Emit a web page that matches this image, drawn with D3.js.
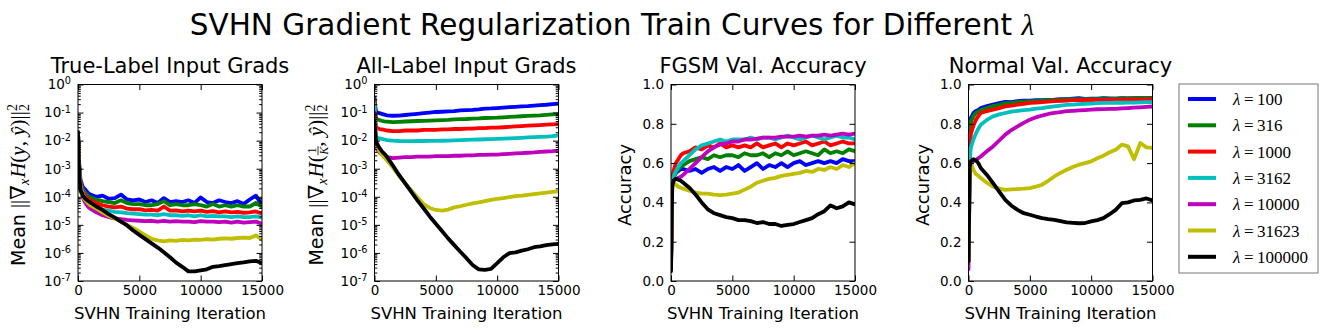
<!DOCTYPE html>
<html>
<head>
<meta charset="utf-8">
<script src="https://cdn.jsdelivr.net/npm/d3@7"></script>
<style>
  body { margin: 0; background: #fff; }
</style>
</head>
<body>
<script>
// training iteration at which each value was logged
const iters = [0, 100, 200, 400, 600, 800, 1000, 1500, 2000, 2500, 3000, 3500, 4000, 4500, 5000,
  5500, 6000, 6500, 7000, 7500, 8000, 8500, 9000, 9500, 10000, 10500, 11000, 11500, 12000,
  12500, 13000, 13500, 14000, 14500, 15000];

const lambdas = ["100", "316", "1000", "3162", "10000", "31623", "100000"];

// one row per lambda, same order as lambdas
const trueLabelGrads = [
  [2e-2, 1.5e-3, 4e-4, 2.2e-4, 1.8e-4, 1.4e-4, 1.2e-4, 1.0e-4, 1.1e-4, 8.5e-5, 9e-5, 1.2e-4, 8e-5, 7.5e-5, 8e-5, 6.5e-5, 7.5e-5, 6e-5, 9e-5, 6.5e-5, 7e-5, 6.5e-5, 7.5e-5, 6e-5, 9.5e-5, 6.5e-5, 6e-5, 7.5e-5, 6.5e-5, 6e-5, 7e-5, 5.5e-5, 8e-5, 1.1e-4, 5e-5],
  [2e-2, 1.2e-3, 3.5e-4, 1.8e-4, 1.4e-4, 1.1e-4, 9.5e-5, 8e-5, 7e-5, 6.5e-5, 6e-5, 7.5e-5, 6e-5, 5.5e-5, 5.5e-5, 5e-5, 5e-5, 5.5e-5, 7e-5, 5e-5, 5.5e-5, 5e-5, 5e-5, 5.5e-5, 5e-5, 4.5e-5, 5.5e-5, 4.5e-5, 5e-5, 4.5e-5, 5e-5, 4.5e-5, 4.5e-5, 6e-5, 4.5e-5],
  [2e-2, 1e-3, 3e-4, 1.5e-4, 1.1e-4, 8.5e-5, 7.5e-5, 6e-5, 5e-5, 4.5e-5, 4.2e-5, 4.5e-5, 3.8e-5, 3.6e-5, 3.6e-5, 3.3e-5, 3.4e-5, 3.2e-5, 4.5e-5, 3.2e-5, 3.3e-5, 3e-5, 3.2e-5, 3e-5, 3.2e-5, 2.9e-5, 3.1e-5, 2.8e-5, 3e-5, 2.8e-5, 2.9e-5, 2.7e-5, 2.8e-5, 3e-5, 2.5e-5],
  [2e-2, 9e-4, 2.5e-4, 1.2e-4, 8.5e-5, 6.5e-5, 5.5e-5, 4.2e-5, 3.5e-5, 3.2e-5, 2.9e-5, 2.8e-5, 2.6e-5, 2.5e-5, 2.4e-5, 2.3e-5, 2.3e-5, 2.2e-5, 2.4e-5, 2.2e-5, 2.2e-5, 2.1e-5, 2.2e-5, 2e-5, 2.2e-5, 2e-5, 2.1e-5, 2e-5, 2e-5, 1.9e-5, 2e-5, 1.9e-5, 1.9e-5, 2e-5, 1.8e-5],
  [2e-2, 8e-4, 2e-4, 9e-5, 6e-5, 4.5e-5, 3.8e-5, 2.8e-5, 2.2e-5, 1.9e-5, 1.7e-5, 1.6e-5, 1.5e-5, 1.45e-5, 1.4e-5, 1.35e-5, 1.4e-5, 1.3e-5, 1.4e-5, 1.3e-5, 1.35e-5, 1.3e-5, 1.3e-5, 1.25e-5, 1.35e-5, 1.3e-5, 1.3e-5, 1.25e-5, 1.3e-5, 1.2e-5, 1.3e-5, 1.2e-5, 1.25e-5, 1.3e-5, 1.1e-5],
  [2e-2, 6e-4, 1.6e-4, 1e-4, 7.5e-5, 6e-5, 5e-5, 3.8e-5, 2.8e-5, 2.1e-5, 1.7e-5, 1.3e-5, 1e-5, 7.8e-6, 5.8e-6, 4.2e-6, 3.2e-6, 2.8e-6, 2.6e-6, 2.8e-6, 2.7e-6, 2.9e-6, 2.8e-6, 3e-6, 2.9e-6, 3.1e-6, 3e-6, 3.2e-6, 3.3e-6, 3.2e-6, 3.4e-6, 3.5e-6, 3.4e-6, 4.2e-6, 3e-6],
  [2e-2, 6e-4, 1.7e-4, 1.1e-4, 8.5e-5, 7.2e-5, 6.3e-5, 4.5e-5, 3.4e-5, 2.4e-5, 1.8e-5, 1.3e-5, 9.5e-6, 6.3e-6, 4.4e-6, 3.1e-6, 2.2e-6, 1.55e-6, 1.05e-6, 7e-7, 4.5e-7, 3.2e-7, 2.2e-7, 2.2e-7, 2.4e-7, 2.6e-7, 3.2e-7, 3.4e-7, 3.7e-7, 4e-7, 4.3e-7, 4.6e-7, 5e-7, 5.2e-7, 4.4e-7]
];

const allLabelGrads = [
  [0.35, 0.12, 0.1, 0.095, 0.09, 0.085, 0.08, 0.077, 0.078, 0.082, 0.086, 0.09, 0.095, 0.1, 0.105, 0.107, 0.11, 0.113, 0.12, 0.122, 0.125, 0.13, 0.138, 0.14, 0.145, 0.15, 0.155, 0.16, 0.165, 0.17, 0.178, 0.185, 0.19, 0.2, 0.21],
  [0.3, 0.07, 0.058, 0.054, 0.051, 0.049, 0.048, 0.046, 0.047, 0.048, 0.049, 0.05, 0.051, 0.052, 0.053, 0.054, 0.055, 0.057, 0.058, 0.059, 0.061, 0.062, 0.064, 0.065, 0.066, 0.068, 0.07, 0.072, 0.074, 0.076, 0.078, 0.08, 0.083, 0.086, 0.088],
  [0.25, 0.035, 0.028, 0.026, 0.025, 0.024, 0.023, 0.022, 0.022, 0.023, 0.023, 0.023, 0.024, 0.024, 0.024, 0.025, 0.025, 0.026, 0.026, 0.027, 0.027, 0.028, 0.028, 0.029, 0.029, 0.03, 0.031, 0.032, 0.033, 0.034, 0.035, 0.036, 0.037, 0.038, 0.039],
  [0.2, 0.016, 0.013, 0.012, 0.0115, 0.011, 0.0105, 0.01, 0.0097, 0.0096, 0.0096, 0.0097, 0.0097, 0.0098, 0.0098, 0.0099, 0.01, 0.0102, 0.0104, 0.0106, 0.0108, 0.011, 0.0112, 0.0114, 0.0116, 0.0118, 0.012, 0.0123, 0.0126, 0.013, 0.0133, 0.0137, 0.014, 0.0145, 0.0155],
  [0.1, 0.008, 0.005, 0.0038, 0.0032, 0.0028, 0.0026, 0.0024, 0.0025, 0.0026, 0.0026, 0.0027, 0.0027, 0.0027, 0.0028, 0.0028, 0.0028, 0.0029, 0.0029, 0.003, 0.003, 0.0031, 0.0031, 0.0032, 0.0032, 0.0033, 0.0034, 0.0035, 0.0036, 0.0037, 0.0038, 0.004, 0.0041, 0.0042, 0.0044],
  [0.05, 0.01, 0.006, 0.0042, 0.0032, 0.0025, 0.002, 0.0011, 5.5e-4, 3e-4, 1.7e-4, 9.5e-5, 5.5e-5, 4e-5, 3.4e-5, 3.2e-5, 3.5e-5, 4.2e-5, 4.6e-5, 5.2e-5, 5.8e-5, 6.3e-5, 7e-5, 7.8e-5, 8.5e-5, 9e-5, 9.7e-5, 1.05e-4, 1.1e-4, 1.18e-4, 1.25e-4, 1.32e-4, 1.4e-4, 1.5e-4, 1.55e-4],
  [0.05, 0.012, 0.008, 0.0055, 0.0042, 0.0034, 0.0027, 0.0013, 6e-4, 3e-4, 1.5e-4, 7.5e-5, 3.9e-5, 2e-5, 1.1e-5, 6e-6, 3.3e-6, 1.9e-6, 1.1e-6, 6.5e-7, 3.7e-7, 2.6e-7, 2.5e-7, 2.7e-7, 4.3e-7, 7e-7, 9.8e-7, 1.05e-6, 1.2e-6, 1.35e-6, 1.6e-6, 1.7e-6, 1.9e-6, 2e-6, 2.1e-6]
];

const fgsmAcc = [
  [0.08, 0.5, 0.53, 0.55, 0.56, 0.57, 0.57, 0.56, 0.57, 0.55, 0.57, 0.58, 0.56, 0.58, 0.57, 0.59, 0.56, 0.58, 0.6, 0.57, 0.59, 0.58, 0.6, 0.58, 0.6, 0.61, 0.59, 0.6, 0.61, 0.6, 0.61, 0.6, 0.62, 0.61, 0.61],
  [0.08, 0.5, 0.53, 0.55, 0.57, 0.58, 0.59, 0.61, 0.62, 0.63, 0.62, 0.64, 0.63, 0.64, 0.64, 0.63, 0.65, 0.64, 0.64, 0.65, 0.63, 0.65, 0.64, 0.66, 0.64, 0.65, 0.66, 0.65, 0.64, 0.67, 0.65, 0.66, 0.65, 0.67, 0.66],
  [0.08, 0.52, 0.56, 0.6, 0.62, 0.64, 0.65, 0.66, 0.68, 0.67, 0.69, 0.68, 0.7, 0.68, 0.69, 0.68, 0.69, 0.68, 0.7, 0.68, 0.69, 0.7, 0.68, 0.7, 0.69, 0.7, 0.71, 0.69, 0.7, 0.71, 0.69, 0.7, 0.71, 0.7, 0.7],
  [0.08, 0.5, 0.53, 0.56, 0.58, 0.6, 0.61, 0.64, 0.67, 0.69, 0.7, 0.71, 0.72, 0.71, 0.72, 0.72, 0.72, 0.73, 0.72, 0.73, 0.73, 0.72, 0.73, 0.74, 0.73, 0.72, 0.73, 0.74, 0.73, 0.72, 0.73, 0.74, 0.73, 0.73, 0.72],
  [0.06, 0.48, 0.51, 0.52, 0.525, 0.53, 0.54, 0.57, 0.6, 0.63, 0.66, 0.68, 0.695, 0.7, 0.71, 0.71, 0.72, 0.72, 0.725, 0.73, 0.73, 0.73, 0.735, 0.735, 0.735, 0.74, 0.735, 0.74, 0.74, 0.745, 0.74, 0.745, 0.75, 0.745, 0.75],
  [0.08, 0.5, 0.5, 0.49, 0.48, 0.475, 0.47, 0.46, 0.45, 0.445, 0.445, 0.44, 0.437, 0.44, 0.445, 0.45, 0.465, 0.48, 0.5, 0.51, 0.52, 0.525, 0.535, 0.54, 0.545, 0.55, 0.56, 0.555, 0.57, 0.565, 0.58, 0.57, 0.59, 0.58, 0.6],
  [0.05, 0.48, 0.51, 0.52, 0.515, 0.51, 0.5, 0.475, 0.44, 0.4, 0.365, 0.345, 0.335, 0.325, 0.32, 0.31, 0.31, 0.305, 0.295, 0.3, 0.29, 0.29, 0.28, 0.285, 0.29, 0.3, 0.31, 0.32, 0.34, 0.355, 0.385, 0.37, 0.38, 0.4, 0.39]
];

const normalAcc = [
  [0.1, 0.78, 0.83, 0.855, 0.865, 0.87, 0.88, 0.89, 0.898, 0.905, 0.912, 0.91, 0.915, 0.918, 0.918, 0.92, 0.92, 0.922, 0.923, 0.925, 0.925, 0.928, 0.93, 0.927, 0.928, 0.928, 0.93, 0.929, 0.928, 0.93, 0.929, 0.93, 0.93, 0.931, 0.932],
  [0.1, 0.75, 0.81, 0.84, 0.855, 0.862, 0.87, 0.88, 0.89, 0.897, 0.905, 0.905, 0.91, 0.913, 0.915, 0.916, 0.918, 0.92, 0.92, 0.922, 0.924, 0.925, 0.925, 0.926, 0.926, 0.927, 0.928, 0.927, 0.928, 0.929, 0.929, 0.93, 0.93, 0.93, 0.93],
  [0.1, 0.68, 0.75, 0.79, 0.82, 0.84, 0.855, 0.865, 0.872, 0.88, 0.889, 0.893, 0.897, 0.902, 0.906, 0.908, 0.91, 0.913, 0.915, 0.917, 0.918, 0.92, 0.92, 0.921, 0.921, 0.922, 0.922, 0.923, 0.922, 0.923, 0.923, 0.924, 0.923, 0.924, 0.924],
  [0.1, 0.62, 0.68, 0.72, 0.75, 0.775, 0.795, 0.82, 0.838, 0.848, 0.855, 0.862, 0.866, 0.87, 0.872, 0.877, 0.88, 0.885, 0.889, 0.893, 0.896, 0.898, 0.9, 0.902, 0.903, 0.905, 0.906, 0.906, 0.907, 0.907, 0.908, 0.908, 0.909, 0.91, 0.91],
  [0.06, 0.55, 0.6, 0.61, 0.615, 0.625, 0.634, 0.66, 0.685, 0.715, 0.745, 0.768, 0.787, 0.805, 0.821, 0.833, 0.842, 0.85, 0.855, 0.86, 0.864, 0.866, 0.868, 0.87, 0.872, 0.874, 0.875, 0.876, 0.876, 0.878, 0.88, 0.882, 0.884, 0.886, 0.888],
  [0.1, 0.58, 0.6, 0.565, 0.545, 0.535, 0.524, 0.5, 0.48, 0.47, 0.464, 0.466, 0.468, 0.47, 0.473, 0.48, 0.49, 0.51, 0.532, 0.55, 0.566, 0.58, 0.592, 0.6, 0.609, 0.625, 0.638, 0.655, 0.668, 0.694, 0.685, 0.62, 0.702, 0.68, 0.677],
  [0.1, 0.58, 0.61, 0.62, 0.615, 0.6, 0.575, 0.54, 0.498, 0.455, 0.413, 0.383, 0.362, 0.345, 0.337, 0.328, 0.32, 0.315, 0.311, 0.305, 0.298, 0.296, 0.294, 0.295, 0.303, 0.31, 0.32, 0.34, 0.362, 0.396, 0.4, 0.41, 0.413, 0.42, 0.41]
];

const iterTicks = [0, 5000, 10000, 15000];
const logTicks = [1e-7, 1e-6, 1e-5, 1e-4, 1e-3, 1e-2, 1e-1, 1];
const accTicks = [0, 0.2, 0.4, 0.6, 0.8, 1.0];

// matplotlib classic colour cycle
const colors = ["#0000ff", "#008000", "#ff0000", "#00bfbf", "#bf00bf", "#bfbf00", "#000000"];

const W = 1328, H = 335;
const panelLeft = [78, 374.5, 671, 968.5];
const pw = 184, ph = 196.5, plotTop = 84.5;
const sansFont = '"DejaVu Sans", sans-serif';
const mathFont = '"Liberation Serif", "DejaVu Serif", serif';

const svg = d3.select("body").append("svg")
  .attr("width", W)
  .attr("height", H)
  .attr("font-family", sansFont);

svg.append("text")
  .attr("x", 612)
  .attr("y", 35)
  .attr("text-anchor", "middle")
  .attr("font-size", 29.5)
  .call(t => {
    t.append("tspan").text("SVHN Gradient Regularization Train Curves for Different ");
    t.append("tspan").attr("font-family", mathFont).attr("font-style", "italic").text("λ");
  });

// builds a rotated label from pieces, returns text node
function rotatedLabel(cx, cy, parts) {
  const g = svg.append("g").attr("transform", `translate(${cx},${cy}) rotate(-90)`);
  const t = g.append("text").attr("text-anchor", "middle").attr("font-size", 19);
  parts.forEach(p => {
    const s = t.append("tspan").text(p.t);
    if (p.m) s.attr("font-family", mathFont).attr("font-size", 21);
    if (p.i) s.attr("font-style", "italic");
    if (p.fs) s.attr("font-size", p.fs);
    if (p.dx) s.attr("dx", p.dx);
    if (p.dy) s.attr("dy", p.dy);
  });
  return { g, t };
}

function drawPanel(i, title, data, isLog) {
  const g = svg.append("g").attr("transform", `translate(${panelLeft[i]},${plotTop})`);
  const x = d3.scaleLinear().domain([0, 15000]).range([0, pw]);
  const y = isLog
    ? d3.scaleLog().domain([1e-7, 1]).range([ph, 0])
    : d3.scaleLinear().domain([0, 1]).range([ph, 0]);

  g.append("clipPath").attr("id", "clip" + i)
    .append("rect").attr("width", pw).attr("height", ph);

  const line = d3.line()
    .x((d, j) => x(iters[j]))
    .y(d => y(d));

  g.append("g").attr("clip-path", `url(#clip${i})`)
    .selectAll("path")
    .data(data)
    .enter()
    .append("path")
    .attr("d", line)
    .attr("fill", "none")
    .attr("stroke", (d, k) => colors[k])
    .attr("stroke-width", 3.8)
    .attr("stroke-linejoin", "round")
    .attr("stroke-linecap", "round");

  const clean = a => a.attr("font-family", null)
    .call(s => s.select(".domain").remove())
    .call(s => s.selectAll(".tick line").attr("stroke", "#000"));

  g.append("g").attr("transform", `translate(0,${ph})`)
    .call(d3.axisBottom(x).tickValues(iterTicks).tickSize(-5.5).tickPadding(4).tickFormat(d3.format("d")))
    .call(clean)
    .selectAll("text").attr("font-size", 13.5);
  g.append("g")
    .call(d3.axisTop(x).tickValues(iterTicks).tickSize(-5.5).tickFormat(""))
    .call(clean);

  const yTicks = isLog ? logTicks : accTicks;
  const left = g.append("g")
    .call(d3.axisLeft(y).tickValues(yTicks).tickSize(-5.5).tickPadding(7)
      .tickFormat(isLog ? () => "" : d3.format(".1f")))
    .call(clean);
  left.selectAll("text").attr("font-size", 13.5);
  if (isLog) {
    left.selectAll(".tick text").each(function (d) {
      const t = d3.select(this);
      t.append("tspan").text("10");
      t.append("tspan").attr("dy", "-0.5em").attr("font-size", "0.72em")
        .text(String(Math.round(Math.log10(d))));
    });
  }
  g.append("g").attr("transform", `translate(${pw},0)`)
    .call(d3.axisRight(y).tickValues(yTicks).tickSize(-5.5).tickFormat(""))
    .call(clean);

  if (isLog) {
    const minor = [];
    logTicks.slice(0, -1).forEach(b => { for (let m = 2; m <= 9; m++) minor.push(b * m); });
    g.append("g")
      .call(d3.axisLeft(y).tickValues(minor).tickSize(-2.8).tickFormat(""))
      .call(clean);
    g.append("g").attr("transform", `translate(${pw},0)`)
      .call(d3.axisRight(y).tickValues(minor).tickSize(-2.8).tickFormat(""))
      .call(clean);
  }

  g.append("rect")
    .attr("width", pw).attr("height", ph)
    .attr("fill", "none").attr("stroke", "#000").attr("stroke-width", 1);

  g.append("text")
    .attr("x", pw / 2).attr("y", -11.5)
    .attr("text-anchor", "middle")
    .attr("font-size", 21)
    .text(title);

  g.append("text")
    .attr("x", pw / 2).attr("y", ph + 38)
    .attr("text-anchor", "middle")
    .attr("font-size", 16.5)
    .text("SVHN Training Iteration");
}

drawPanel(0, "True-Label Input Grads", trueLabelGrads, true);
drawPanel(1, "All-Label Input Grads", allLabelGrads, true);
drawPanel(2, "FGSM Val. Accuracy", fgsmAcc, false);
drawPanel(3, "Normal Val. Accuracy", normalAcc, false);

// y labels
rotatedLabel(25, 185, [
  { t: "Mean " },
  { t: "||∇", m: 1 },
  { t: "x", m: 1, i: 1, fs: 14, dy: 4 },
  { t: "H", m: 1, i: 1, dy: -4, dx: 1 },
  { t: "(", m: 1 },
  { t: "y", m: 1, i: 1 },
  { t: ", ", m: 1 },
  { t: "ŷ", m: 1, i: 1 },
  { t: ")||", m: 1 },
  { t: "2", m: 1, fs: 14, dy: 4 },
  { t: "2", m: 1, fs: 14, dx: -7, dy: -12 }
]);

const lbl2 = rotatedLabel(323, 185, [
  { t: "Mean " },
  { t: "||∇", m: 1 },
  { t: "x", m: 1, i: 1, fs: 14, dy: 4 },
  { t: "H", m: 1, i: 1, dy: -4, dx: 1 },
  { t: "(", m: 1 },
  { t: "1", m: 1, fs: 12, dx: 1.8, dy: -7.5 },
  { t: "K", m: 1, i: 1, fs: 12, dx: -7.2, dy: 12.5 },
  { t: ", ", m: 1, dy: -5 },
  { t: "ŷ", m: 1, i: 1 },
  { t: ")||", m: 1 },
  { t: "2", m: 1, fs: 14, dy: 4 },
  { t: "2", m: 1, fs: 14, dx: -7, dy: -12 }
]);
// fraction bar between the 1 and the K
{
  const idxK = "Mean ||∇xH(1".length;
  const ext = lbl2.t.node().getExtentOfChar(idxK);
  lbl2.g.append("line")
    .attr("x1", ext.x - 0.5).attr("x2", ext.x + ext.width + 0.5)
    .attr("y1", -5).attr("y2", -5)
    .attr("stroke", "#000").attr("stroke-width", 0.8);
}

svg.append("text")
  .attr("transform", "translate(631,185) rotate(-90)")
  .attr("text-anchor", "middle").attr("font-size", 18)
  .text("Accuracy");
svg.append("text")
  .attr("transform", "translate(929,185) rotate(-90)")
  .attr("text-anchor", "middle").attr("font-size", 18)
  .text("Accuracy");

// legend
const legend = svg.append("g").attr("transform", "translate(1179,84)");
legend.append("rect")
  .attr("width", 139).attr("height", 189)
  .attr("fill", "#fff").attr("stroke", "#777").attr("stroke-width", 1);
const item = legend.selectAll("g.item")
  .data(lambdas)
  .enter()
  .append("g")
  .attr("class", "item")
  .attr("transform", (d, k) => `translate(0,${15 + k * 26.3})`);
item.append("line")
  .attr("x1", 9).attr("x2", 37)
  .attr("stroke", (d, k) => colors[k])
  .attr("stroke-width", 4);
item.append("text")
  .attr("x", 54).attr("y", 6)
  .attr("font-size", 17)
  .attr("font-family", mathFont)
  .call(t => {
    t.append("tspan").attr("font-style", "italic").text("λ");
    t.append("tspan").attr("dx", 3.5).text("=");
    t.append("tspan").attr("dx", 3.5).text(d => d);
  });
</script>
</body>
</html>
